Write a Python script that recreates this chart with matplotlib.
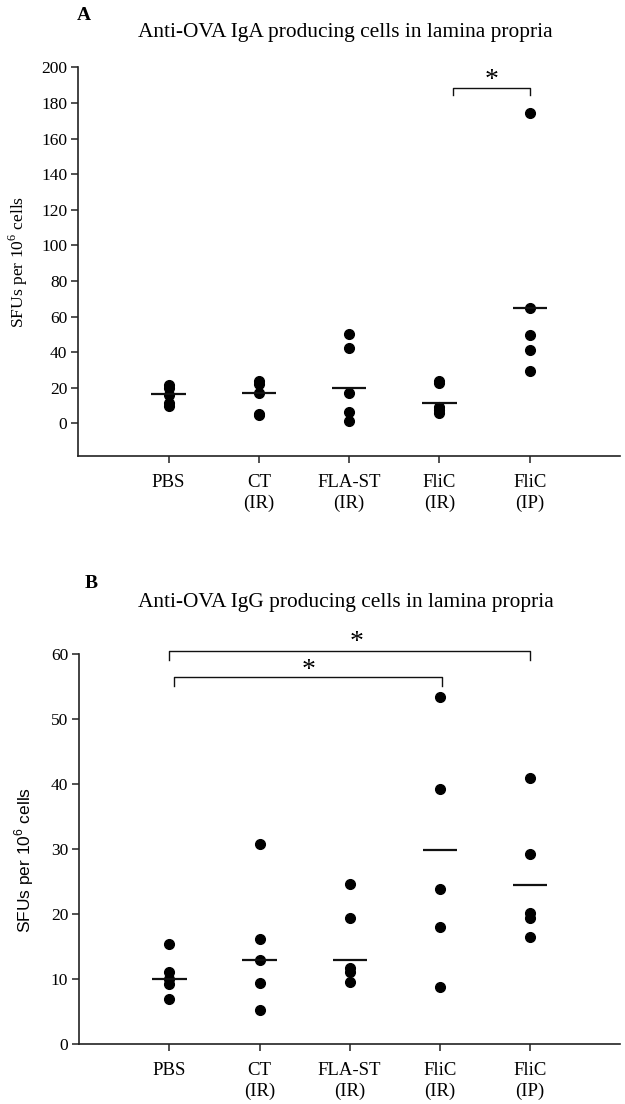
import matplotlib
matplotlib.use("Agg")
import matplotlib.pyplot as plt

plt.rcParams['mathtext.fontset'] = 'custom'
plt.rcParams['mathtext.rm'] = 'Liberation Serif'
plt.rcParams['mathtext.sf'] = 'Liberation Sans'

categories = ["PBS", "CT\n(IR)", "FLA-ST\n(IR)", "FliC\n(IR)", "FliC\n(IP)"]

iga_pbs = [21.5, 20, 16, 11.5, 10]
iga_ct = [23.5, 22, 17, 5.5, 4.5]
iga_flast = [50, 42.5, 17, 6.5, 1.5]
iga_flic_ir = [23.5, 22.5, 9, 7.5, 6]
iga_flic_ip = [174.5, 65, 49.5, 41, 29.5]
iga_lines = [16.3, 17.2, 19.7, 11.6, 64.8]

igg_pbs = [15.4, 11.1, 10.0, 9.2, 6.8]
igg_ct = [30.8, 16.1, 12.8, 9.3, 5.1]
igg_flast = [24.6, 19.3, 11.7, 11.1, 9.5]
igg_flic_ir = [53.4, 39.2, 23.8, 18.0, 8.7]
igg_flic_ip = [41.0, 29.2, 20.1, 19.3, 16.4]
igg_lines = [9.9, 12.9, 12.9, 29.8, 24.5]

W, H = 625, 1104
fig = plt.figure(figsize=(W / 100, H / 100), dpi=100)

SERIF = 'Liberation Serif'
SANS = 'Liberation Sans'


def px_axes(left, top, right, bottom):
    return fig.add_axes([left / W, 1 - bottom / H, (right - left) / W, (bottom - top) / H])


def style(ax, ylim, yticks):
    ax.set_xlim(0, 6)
    ax.set_ylim(*ylim)
    ax.set_xticks(range(1, 6))
    ax.set_xticklabels(categories, fontfamily=SERIF, fontsize=13.5, linespacing=1.28)
    ax.set_yticks(yticks)
    ax.set_yticklabels([str(t) for t in yticks], fontfamily=SERIF, fontsize=12.5)
    for s in ['top', 'right']:
        ax.spines[s].set_visible(False)
    for s in ['left', 'bottom']:
        ax.spines[s].set_linewidth(1.2)
        ax.spines[s].set_color('#222222')
    ax.tick_params(axis='both', direction='out', length=5, width=1.1, color='#222222')
    ax.tick_params(axis='x', pad=8)
    ax.tick_params(axis='y', pad=3)


def draw_groups(ax, groups, lines):
    for i, vals in enumerate(groups):
        x = i + 1
        ax.plot([x] * len(vals), vals, 'o', color='black', markersize=7, clip_on=False, zorder=3)
    xs = list(range(1, 6))
    ax.hlines(lines, [x - 0.19 for x in xs], [x + 0.19 for x in xs], color='#111111', linewidth=1.6, zorder=4)


def bracket(ax, x0, x1, y, drop, sx, sy):
    ax.plot([x0, x0, x1, x1], [y - drop, y, y, y - drop], color='#111111', linewidth=1.0, clip_on=False)
    ax.text(sx, sy, '*', fontfamily=SERIF, fontsize=20, ha='center', va='center', clip_on=False)


# Panel A
axA = px_axes(78.3, 67.3, 620, 455.7)
style(axA, (-18.2, 200), list(range(0, 201, 20)))
draw_groups(axA, [iga_pbs, iga_ct, iga_flast, iga_flic_ir, iga_flic_ip], iga_lines)
bracket(axA, 4.15, 5.0, 188.5, 4.0, 4.575, 192.5)

# Panel B
axB = px_axes(79.3, 654.4, 620, 1043.5)
style(axB, (0, 60), list(range(0, 61, 10)))
draw_groups(axB, [igg_pbs, igg_ct, igg_flast, igg_flic_ir, igg_flic_ip], igg_lines)
bracket(axB, 1.0, 5.0, 60.6, 1.4, 3.08, 61.9)
bracket(axB, 1.05, 4.03, 56.5, 1.3, 2.54, 57.5)

# Text
fig.text(77 / W, 1 - 15 / H, 'A', fontfamily=SERIF, fontweight='bold', fontsize=14, ha='left', va='center')
fig.text(345.5 / W, 1 - 33 / H, 'Anti-OVA IgA producing cells in lamina propria', fontfamily=SERIF,
         fontsize=15.4, ha='center', va='center')
fig.text(85 / W, 1 - 583 / H, 'B', fontfamily=SERIF, fontweight='bold', fontsize=14, ha='left', va='center')
fig.text(346 / W, 1 - 602 / H, 'Anti-OVA IgG producing cells in lamina propria', fontfamily=SERIF,
         fontsize=15.4, ha='center', va='center')

fig.text(18 / W, 1 - 262 / H, r'SFUs per 10$^{6}$ cells', fontfamily=SERIF, fontsize=12.6,
         rotation=90, ha='center', va='center')
fig.text(24 / W, 1 - 860 / H, r'SFUs per 10$^{\mathsf{6}}$ cells', fontfamily=SANS, fontsize=12.5,
         rotation=90, ha='center', va='center')

fig.savefig('out.png', dpi=100)
